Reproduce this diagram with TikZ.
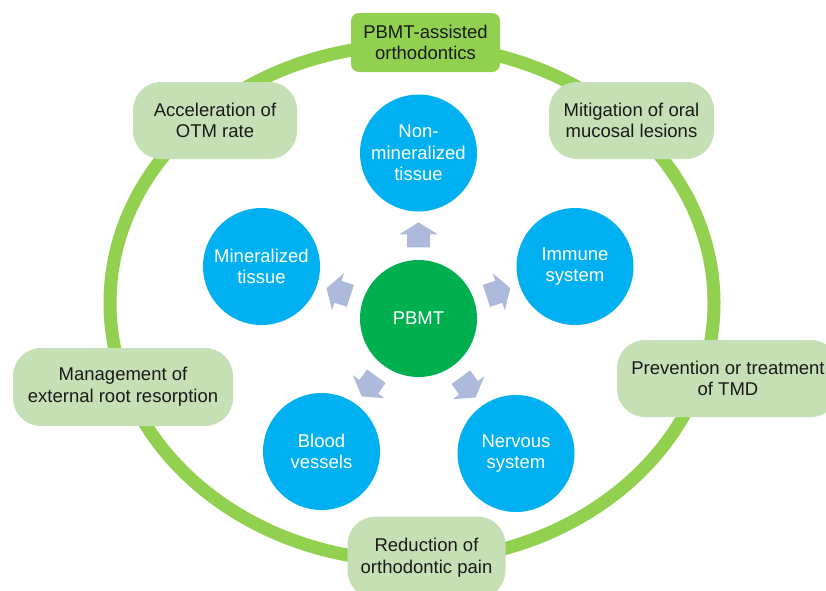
\documentclass[tikz,border=0pt]{standalone}
\usepackage{fontspec}
\setmainfont{Liberation Sans}
\usetikzlibrary{calc}
\definecolor{ringgreen}{HTML}{92D050}
\definecolor{boxgreen}{HTML}{C5E0B4}
\definecolor{circblue}{HTML}{00B0F0}
\definecolor{pbmtgreen}{HTML}{00B050}
\definecolor{arrowc}{RGB}{174,186,220}
\definecolor{txtdark}{HTML}{1A1A1A}
\tikzset{
  topbox/.style={fill=ringgreen, rounded corners=8pt, minimum width=149pt, minimum height=59pt,
    align=center, text=txtdark, inner sep=0pt, font=\fontsize{18.5}{21.7}\selectfont},
  effbox/.style={fill=boxgreen, rounded corners=28pt, minimum height=77pt,
    align=center, text=txtdark, inner sep=0pt, font=\fontsize{18.5}{21.7}\selectfont},
  target/.style={circle, fill=circblue, minimum size=117pt, inner sep=0pt,
    align=center, text=white, font=\fontsize{18.5}{21.7}\selectfont},
  core/.style={circle, fill=pbmtgreen, minimum size=117pt, inner sep=0pt,
    align=center, text=white, font=\fontsize{18.5}{21.7}\selectfont},
  blockarrow/.pic={\fill[arrowc] (-12.5,-11.5) -- (0.5,-11.5) -- (0.5,-19.5) -- (12.5,0)
     -- (0.5,19.5) -- (0.5,11.5) -- (-12.5,11.5) -- cycle;}
}
\begin{document}
\begin{tikzpicture}[x=1pt,y=-1pt]
\useasboundingbox (0,0) rectangle (826,590);
\clip (0,0) rectangle (826,590);
\fill[white] (0,0) rectangle (826,590);
% ring
\draw[ringgreen, line width=13pt] (412,303) ellipse [x radius=302, y radius=258];
% central circles
\node[core] (pbmt) at (418.5,318.5) {PBMT};
\node[target] (nonmin) at (418.5,153) {Non-\\mineralized\\tissue};
\node[target] (immune) at (575,266.5) {Immune\\system};
\node[target] (minr) at (261.5,266.5) {Mineralized\\tissue};
\node[target] (blood) at (321.5,451.5) {Blood\\vessels};
\node[target] (nerv) at (516,453.5) {Nervous\\system};
% block arrows
\pic[rotate=90] at ($(pbmt)!0.505!(nonmin)$) {blockarrow};
\pic[rotate=18] at ($(pbmt)!0.51!(immune)$) {blockarrow};
\pic[rotate=162] at ($(pbmt)!0.51!(minr)$) {blockarrow};
\pic[rotate=-54] at ($(pbmt)!0.51!(nerv)$) {blockarrow};
\pic[rotate=-126] at ($(pbmt)!0.51!(blood)$) {blockarrow};
% outer boxes
\node[topbox] (top) at (425.5,42.5) {PBMT-assisted\\orthodontics};
\node[effbox, minimum width=164pt] (acc) at (215,120.5) {Acceleration of\\OTM rate};
\node[effbox, minimum width=165pt] (mit) at (631.5,120.5) {Mitigation of oral\\mucosal lesions};
\node[effbox, minimum width=220pt, minimum height=78pt] (man) at (123,387) {Management of\\external root resorption};
\node[effbox, minimum width=222pt] (tmd) at (728,378.5) {Prevention or treatment\\of TMD};
\node[effbox, minimum width=158pt, minimum height=82pt] (red) at (426.5,557.5) {Reduction of\\orthodontic pain};
\end{tikzpicture}
\end{document}
